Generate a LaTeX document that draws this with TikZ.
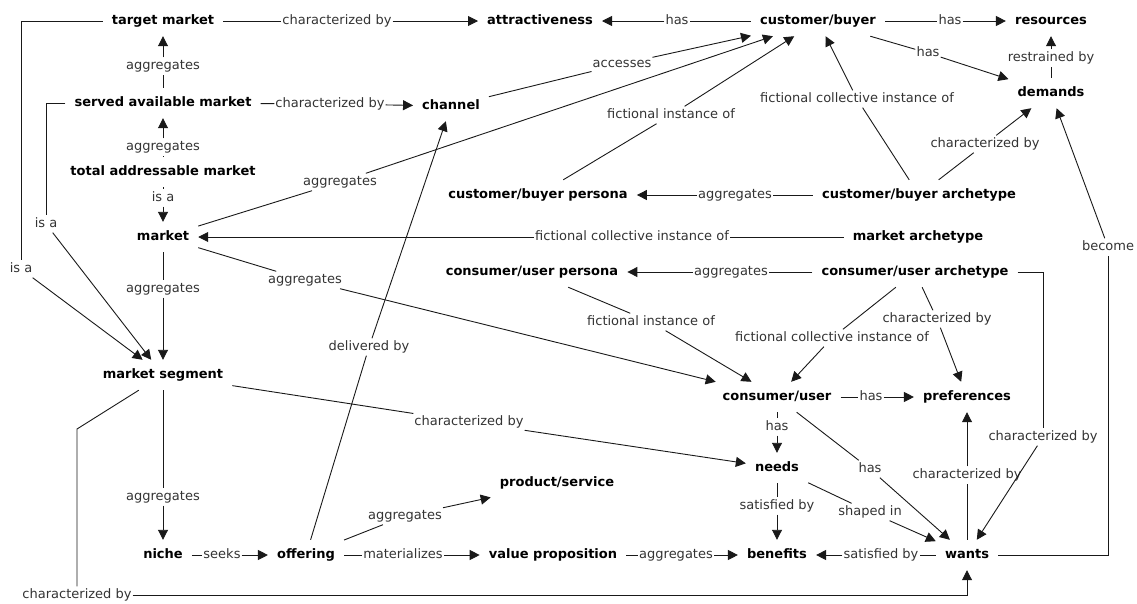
\documentclass[tikz,border=0pt]{standalone}
\usepackage{fontspec}
\setmainfont{DejaVu Sans}
\usetikzlibrary{arrows.meta}
\begin{document}
\begin{tikzpicture}[x=1pt,y=-1pt,
  concept/.style={font=\bfseries\fontsize{13}{15}\selectfont, text height=10pt, text depth=3pt, inner xsep=9pt, inner ysep=8.5pt},
  link/.style={font=\fontsize{13}{15}\selectfont, text=black!80, text height=10pt, text depth=3pt, inner xsep=1pt, inner ysep=2pt},
  rel/.style={line width=0.9pt, black!90},
  arr/.style={rel, -{Triangle[length=10pt,width=10pt]}}]
\useasboundingbox (0,0) rectangle (1137,603);

\node[concept] (tm) at (163,21) {target market};
\node[concept] (attr) at (540,21) {attractiveness};
\node[concept] (cb) at (818,21) {customer/buyer};
\node[concept] (res) at (1051,21) {resources};
\node[concept] (sam) at (163,103) {served available market};
\node[concept] (chan) at (451,106) {channel};
\node[concept] (dem) at (1051,93) {demands};
\node[concept] (tam) at (163,172) {total addressable market};
\node[concept] (cbp) at (538,195) {customer/buyer persona};
\node[concept] (cba) at (919,195) {customer/buyer archetype};
\node[concept] (mkt) at (163,237) {market};
\node[concept] (ma) at (918,237) {market archetype};
\node[concept] (cup) at (532,272) {consumer/user persona};
\node[concept] (cua) at (915,272) {consumer/user archetype};
\node[concept] (seg) at (163,375) {market segment};
\node[concept] (cu) at (777,397) {consumer/user};
\node[concept] (pref) at (967,397) {preferences};
\node[concept] (needs) at (777,468) {needs};
\node[concept] (ps) at (557,483) {product/service};
\node[concept] (niche) at (163,555) {niche};
\node[concept] (off) at (306,555) {offering};
\node[concept] (vp) at (553,555) {value proposition};
\node[concept] (ben) at (777,555) {benefits};
\node[concept] (wants) at (967,555) {wants};

\node[link] (lTmAttr) at (337,21) {characterized by};
\node[link] (lCbAttr) at (677,21) {has};
\node[link] (lCbRes) at (950,21) {has};
\node[link] (lCbDem) at (928,53) {has};
\node[link] (lDemRes) at (1051,58) {restrained by};
\node[link] (lSamTm) at (163,66) {aggregates};
\node[link] (lSamChan) at (330,104) {characterized by};
\node[link] (lChanCb) at (622,64) {accesses};
\node[link] (lCbpCb) at (671,115) {fictional instance of};
\node[link] (lCbaCb) at (857,99) {fictional collective instance of};
\node[link] (lCbaDem) at (985,144) {characterized by};
\node[link] (lTamSam) at (163,147) {aggregates};
\node[link] (lMktCb) at (340,182) {aggregates};
\node[link] (lTamMkt) at (163,198) {is a};
\node[link] (lCbaCbp) at (735,195) {aggregates};
\node[link] (lSamSeg) at (46,224) {is a};
\node[link] (lTmSeg) at (21,269) {is a};
\node[link] (lMaMkt) at (632,237) {fictional collective instance of};
\node[link] (lMktCu) at (305,280) {aggregates};
\node[link] (lMktSeg) at (163,289) {aggregates};
\node[link] (lCuaCup) at (731,272) {aggregates};
\node[link] (lWantsDem) at (1108,247) {become};
\node[link] (lCupCu) at (651,322) {fictional instance of};
\node[link] (lCuaPref) at (937,319) {characterized by};
\node[link] (lCuaCu) at (832,338) {fictional collective instance of};
\node[link] (lOffChan) at (369,347) {delivered by};
\node[link] (lCuPref) at (871,397) {has};
\node[link] (lSegNeeds) at (469,422) {characterized by};
\node[link] (lCuaWants) at (1043,437) {characterized by};
\node[link] (lCuNeeds) at (777,427) {has};
\node[link] (lCuWants) at (870,469) {has};
\node[link] (lWantsPref) at (967,475) {characterized by};
\node[link] (lSegNiche) at (163,497) {aggregates};
\node[link] (lOffPs) at (405,516) {aggregates};
\node[link] (lNeedsBen) at (777,506) {satisfied by};
\node[link] (lNeedsWants) at (870,512) {shaped in};
\node[link] (lNicheOff) at (222,555) {seeks};
\node[link] (lOffVp) at (403,555) {materializes};
\node[link] (lVpBen) at (676,555) {aggregates};
\node[link] (lWantsBen) at (881,555) {satisfied by};
\node[link] (lSegWants) at (77,595) {characterized by};
\coordinate (segBend) at (77,429);

\draw[rel] (tm) -- (lTmAttr); \draw[arr] (lTmAttr) -- (attr);
\draw[rel] (cb) -- (lCbAttr); \draw[arr] (lCbAttr) -- (attr);
\draw[rel] (cb) -- (lCbRes); \draw[arr] (lCbRes) -- (res);
\draw[rel] (cb) -- (lCbDem); \draw[arr] (lCbDem) -- (dem);
\draw[rel] (dem) -- (lDemRes); \draw[arr] (lDemRes) -- (res);
\draw[rel] (sam) -- (lSamTm); \draw[arr] (lSamTm) -- (tm);
\draw[rel] (sam) -- (lSamChan); \draw[arr] (lSamChan) -- (chan);
\draw[rel] (chan) -- (lChanCb); \draw[arr] (lChanCb) -- (cb);
\draw[rel] (cbp) -- (lCbpCb); \draw[arr] (lCbpCb) -- (cb);
\draw[rel] (cba) -- (lCbaCb); \draw[arr] (lCbaCb) -- (cb);
\draw[rel] (cba) -- (lCbaDem); \draw[arr] (lCbaDem) -- (dem);
\draw[rel] (tam) -- (lTamSam); \draw[arr] (lTamSam) -- (sam);
\draw[rel] (mkt) -- (lMktCb); \draw[arr] (lMktCb) -- (cb);
\draw[rel] (tam) -- (lTamMkt); \draw[arr] (lTamMkt) -- (mkt);
\draw[rel] (cba) -- (lCbaCbp); \draw[arr] (lCbaCbp) -- (cbp);
\draw[rel] (sam) -| (lSamSeg); \draw[arr] (lSamSeg) -- (seg);
\draw[rel] (tm) -| (lTmSeg); \draw[arr] (lTmSeg) -- (seg);
\draw[rel] (ma) -- (lMaMkt); \draw[arr] (lMaMkt) -- (mkt);
\draw[rel] (mkt) -- (lMktCu); \draw[arr] (lMktCu) -- (cu);
\draw[rel] (mkt) -- (lMktSeg); \draw[arr] (lMktSeg) -- (seg);
\draw[rel] (cua) -- (lCuaCup); \draw[arr] (lCuaCup) -- (cup);
\draw[rel] (wants) -| (lWantsDem); \draw[arr] (lWantsDem) -- (dem);
\draw[rel] (cup) -- (lCupCu); \draw[arr] (lCupCu) -- (cu);
\draw[rel] (cua) -- (lCuaPref); \draw[arr] (lCuaPref) -- (pref);
\draw[rel] (cua) -- (lCuaCu); \draw[arr] (lCuaCu) -- (cu);
\draw[rel] (off) -- (lOffChan); \draw[arr] (lOffChan) -- (chan);
\draw[rel] (cu) -- (lCuPref); \draw[arr] (lCuPref) -- (pref);
\draw[rel] (seg) -- (lSegNeeds); \draw[arr] (lSegNeeds) -- (needs);
\draw[rel] (cua) -| (lCuaWants); \draw[arr] (lCuaWants) -- (wants);
\draw[rel] (cu) -- (lCuNeeds); \draw[arr] (lCuNeeds) -- (needs);
\draw[rel] (cu) -- (lCuWants); \draw[arr] (lCuWants) -- (wants);
\draw[rel] (wants) -- (lWantsPref); \draw[arr] (lWantsPref) -- (pref);
\draw[rel] (seg) -- (lSegNiche); \draw[arr] (lSegNiche) -- (niche);
\draw[rel] (off) -- (lOffPs); \draw[arr] (lOffPs) -- (ps);
\draw[rel] (needs) -- (lNeedsBen); \draw[arr] (lNeedsBen) -- (ben);
\draw[rel] (needs) -- (lNeedsWants); \draw[arr] (lNeedsWants) -- (wants);
\draw[rel] (niche) -- (lNicheOff); \draw[arr] (lNicheOff) -- (off);
\draw[rel] (off) -- (lOffVp); \draw[arr] (lOffVp) -- (vp);
\draw[rel] (vp) -- (lVpBen); \draw[arr] (lVpBen) -- (ben);
\draw[rel] (wants) -- (lWantsBen); \draw[arr] (lWantsBen) -- (ben);
\draw[rel] (seg) -- (segBend) -- (lSegWants); \draw[arr] (lSegWants) -| (wants);

\end{tikzpicture}
\end{document}
